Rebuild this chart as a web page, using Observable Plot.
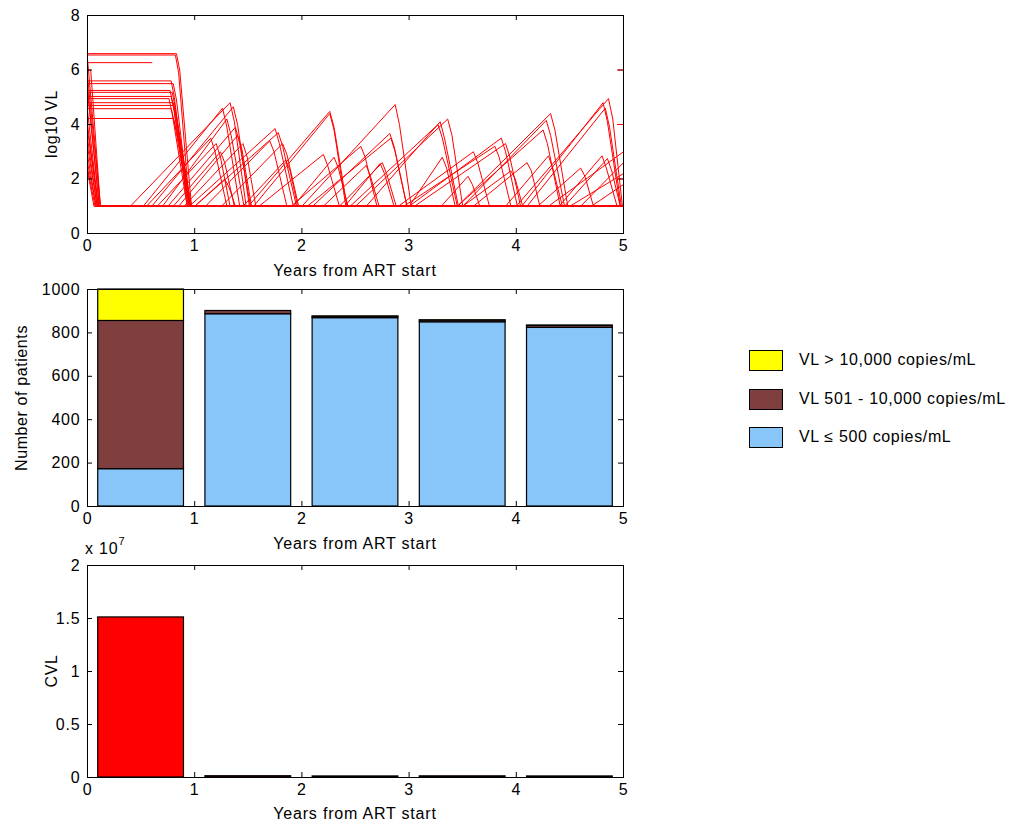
<!DOCTYPE html>
<html><head><meta charset="utf-8">
<script src="https://cdn.jsdelivr.net/npm/d3@7"></script>
<script src="https://cdn.jsdelivr.net/npm/@observablehq/plot@0.6"></script>
<style>
body{margin:0;background:#fff;font-family:"Liberation Sans",Arial,sans-serif;color:#000;}
#wrap{position:relative;width:1017px;height:825px;overflow:hidden;}
.panel{position:absolute;left:0;}
.lbl{position:absolute;font-size:16px;white-space:nowrap;letter-spacing:0.8px;}
.ylbl{position:absolute;font-size:16px;white-space:nowrap;letter-spacing:0.6px;transform:translate(-50%,-50%) rotate(-90deg);}
.box{position:absolute;width:34px;height:21px;border:1px solid #000;box-sizing:border-box;}
.ltxt{position:absolute;font-size:16px;white-space:nowrap;line-height:20px;letter-spacing:0.65px;}
</style></head><body><div id="wrap"></div>
<script>
// ---------- data ----------
const xTicks = [0, 1, 2, 3, 4, 5];
const vlTicks = [0, 2, 4, 6, 8];
const patientTicks = [0, 200, 400, 600, 800, 1000];
const cvlTicks = [0, 0.5, 1, 1.5, 2];
const cvlExponent = 7;

// log10 viral load trajectories per patient: [years, log10 VL]
const patientTraces = [
  [[0,6.6],[0.83,6.6],[0.86,6.0],[0.97,1],[1.50,1],[2.26,4.48],[2.30,3.9],[2.42,1],[3.45,1],[4.32,4.4],[4.36,3.8],[4.48,1],[5,1]],
  [[0,6.55],[0.82,6.55],[0.85,5.9],[0.95,1],[2.0,1],[2.87,4.73],[2.91,4.0],[3.02,1],[4.0,1],[4.86,4.95],[4.90,4.2],[4.99,1],[5,1]],
  [[0,6.27],[0.6,6.27]],
  [[0,5.6],[0.78,5.6],[0.81,5.0],[0.93,1],[2.45,1],[3.27,4.0],[3.31,3.5],[3.45,1],[4.05,1],[4.81,4.8],[4.85,4.1],[4.97,1],[5,1]],
  [[0,5.5],[0.80,5.5],[0.83,4.9],[0.95,1],[2.5,1],[3.36,4.2],[3.40,3.6],[3.50,1],[4.4,1],[4.80,2.85],[4.84,2.4],[4.94,1],[5,1]],
  [[0,5.25],[0.77,5.25],[0.80,4.7],[0.94,1],[1.0,1],[1.78,3.7],[1.82,3.2],[1.95,1],[3.0,1],[3.86,3.5],[3.90,3.0],[4.01,1],[5,1]],
  [[0,5.18],[0.79,5.18],[0.82,4.6],[0.96,1],[2.1,1],[2.82,3.67],[2.86,3.2],[2.98,1],[4.6,1],[5,2.6]],
  [[0,5.03],[0.78,5.03],[0.81,4.5],[0.95,1],[1.25,1],[1.82,3.3],[1.86,2.9],[1.97,1],[3.05,1],[3.9,3.3],[3.94,2.8],[4.04,1],[5,1]],
  [[0,4.8],[0.80,4.8],[0.83,4.3],[0.96,1],[2.35,1],[2.75,2.6],[2.79,2.2],[2.88,1],[3.5,1],[4.28,4.15],[4.32,3.6],[4.45,1],[5,1]],
  [[0,4.7],[0.80,4.7],[0.83,4.2],[0.97,1],[1.6,1],[2.2,2.9],[2.24,2.5],[2.35,1],[2.6,1],[3.29,4.1],[3.33,3.5],[3.46,1],[5,1]],
  [[0,4.58],[0.78,4.58],[0.81,4.1],[0.95,1],[1.92,1],[2.3,2.8],[2.34,2.4],[2.43,1],[3.9,1],[4.3,2.85],[4.34,2.4],[4.43,1],[5,1]],
  [[0,4.22],[0.80,4.22],[0.83,3.8],[0.96,1],[3.0,1],[3.31,2.8],[3.35,2.4],[3.43,1],[4.45,1],[4.85,2.75],[4.89,2.3],[4.97,1],[5,1]],
  [[0,4.95],[0.76,4.95],[0.79,4.4],[0.93,1],[2.05,1],[2.83,3.5],[2.87,3.0],[2.98,1],[4.5,1],[5,2.2]],
  [[0,6.0],[0.03,6.0],[0.12,1],[0.40,1],[1.33,4.8],[1.37,4.1],[1.48,1],[2.95,1],[3.8,3.2],[3.84,2.8],[3.95,1],[5,1]],
  [[0,5.8],[0.12,1],[0.52,1],[1.26,4.6],[1.30,3.9],[1.42,1],[2.4,1],[2.73,2.57],[2.77,2.2],[2.86,1],[5,1]],
  [[0,5.2],[0.11,1],[0.60,1],[1.36,4.65],[1.40,4.0],[1.51,1],[4.2,1],[4.6,2.4],[4.64,2.1],[4.72,1],[5,1]],
  [[0,4.5],[0.10,1],[0.70,1],[1.30,4.2],[1.34,3.6],[1.46,1],[3.5,1],[3.95,2.3],[3.99,2.0],[4.06,1],[5,1]],
  [[0,3.8],[0.10,1],[0.80,1],[1.24,3.0],[1.28,2.6],[1.37,1],[1.45,1],[1.85,2.7],[1.89,2.3],[1.96,1],[5,1]],
  [[0,3.2],[0.09,1],[0.85,1],[1.40,3.6],[1.44,3.1],[1.53,1],[2.2,1],[2.6,2.5],[2.64,2.1],[2.72,1],[5,1]],
  [[0,2.9],[0.08,1],[0.95,1],[1.75,3.85],[1.79,3.3],[1.92,1],[4.7,1],[5,1.8]],
  [[0,2.6],[0.08,1],[1.0,1],[1.28,2.0],[1.32,1.7],[1.38,1],[3.3,1],[3.55,2.1],[3.59,1.8],[3.66,1],[5,1]],
  [[0,2.4],[0.07,1],[0.55,1],[1.15,3.5],[1.19,3.0],[1.30,1],[1.55,1],[2.26,4.4],[2.30,3.8],[2.41,1],[5,1]],
  [[0,2.3],[0.06,1],[0.65,1],[1.20,3.3],[1.24,2.8],[1.33,1],[3.45,1],[4.25,3.8],[4.29,3.3],[4.41,1],[5,1]],
  [[0,6.4],[0.12,1],[0.75,1],[1.38,3.9],[1.42,3.3],[1.52,1],[4.1,1],[4.83,4.6],[4.87,3.9],[4.98,1],[5,1]],
  [[0,4.0],[0.10,1],[0.90,1],[1.45,3.3],[1.49,2.8],[1.57,1],[4.3,1],[5,3.0]],
  [[0,3.5],[0.09,1],[1.9,1],[2.55,3.2],[2.59,2.8],[2.70,1],[3.6,1],[4.1,2.6],[4.14,2.3],[4.22,1],[5,1]],
  [[0,5.4],[0.11,1],[1.1,1],[1.70,3.4],[1.74,3.0],[1.86,1],[2.9,1],[3.6,3.0],[3.64,2.6],[3.75,1],[5,1]]
];

// stacked bars: number of patients per year
const barYears = [0.5, 1.5, 2.5, 3.5, 4.5];
const vlCategories = ["VL \u2264 500 copies/mL", "VL 501 - 10,000 copies/mL", "VL > 10,000 copies/mL"];
const vlColors = ["#88c5f8", "#7f3f3f", "#ffff00"];
const countLow = [172, 886, 868, 849, 823];
const countMid = [683, 15, 6, 8, 9];
const countHigh = [145, 0, 2, 1, 2];

// community viral load (x 10^7)
const cvlValues = [1.51, 0.012, 0.01, 0.011, 0.01];

// ---------- layout ----------
const FONT = "'Liberation Sans', Arial, sans-serif";
const W = 650, ML = 87, MR = 27, FW = W - ML - MR;
const barHalf = 0.4;
const wrap = document.getElementById("wrap");
const svgStyle = {fontSize: "16px", fontFamily: FONT, background: "transparent", color: "#000", letterSpacing: "0.8px"};

function frameMarks(xt, yt, fh) {
  return [
    Plot.tickX(xt, {x: d => d, insetTop: fh - 5, stroke: "black"}),
    Plot.tickX(xt, {x: d => d, insetBottom: fh - 5, stroke: "black"}),
    Plot.tickY(yt, {y: d => d, insetRight: FW - 5, stroke: "black"}),
    Plot.tickY(yt, {y: d => d, insetLeft: FW - 5, stroke: "black"}),
    Plot.axisX({ticks: xt, tickSize: 0, tickPadding: 6, label: null, tickFormat: d => String(d)}),
    Plot.axisY({ticks: yt, tickSize: 0, tickPadding: 7, label: null, tickFormat: d => String(d)}),
    Plot.frame({stroke: "black", strokeWidth: 1})
  ];
}

function place(el, top) {
  el.classList.add("panel");
  el.style.top = top + "px";
  wrap.appendChild(el);
}
function text(cls, str, x, y, extra) {
  const d = document.createElement("div");
  d.className = cls;
  d.innerHTML = str;
  d.style.left = x + "px";
  d.style.top = y + "px";
  if (extra) Object.assign(d.style, extra);
  wrap.appendChild(d);
  return d;
}

// ---- top panel ----
const traceRows = patientTraces.flatMap((tr, i) => tr.map(([t, v]) => ({id: i, t, v})));
const topH = 218;
const p1 = Plot.plot({
  width: W, height: 280, marginLeft: ML, marginRight: MR, marginTop: 15, marginBottom: 280 - 15 - topH,
  style: svgStyle,
  x: {domain: [0, 5]}, y: {domain: [0, 8]},
  marks: [
    Plot.line(traceRows, {x: "t", y: "v", z: "id", stroke: "#ff0000", strokeWidth: 1}),
    ...frameMarks(xTicks, vlTicks, topH),
    Plot.tickY([2, 4, 6], {y: d => d, insetLeft: FW - 6, stroke: "#ff0000"})
  ]
});
place(p1, 0);

// ---- middle panel ----
const barRows = [];
barYears.forEach((yr, i) => {
  const parts = [countLow[i], countMid[i], countHigh[i]];
  let base = 0;
  parts.forEach((c, k) => {
    if (c > 0) barRows.push({x1: yr - barHalf, x2: yr + barHalf, y1: base, y2: base + c, cat: vlCategories[k]});
    base += c;
  });
});
const midH = 217;
const p2 = Plot.plot({
  width: W, height: 276, marginLeft: ML, marginRight: MR, marginTop: 9, marginBottom: 276 - 9 - midH,
  style: svgStyle,
  x: {domain: [0, 5]}, y: {domain: [0, 1000]},
  color: {domain: vlCategories, range: vlColors},
  marks: [
    Plot.rect(barRows, {x1: "x1", x2: "x2", y1: "y1", y2: "y2", fill: "cat", stroke: "black", strokeWidth: 1.2}),
    ...frameMarks(xTicks, patientTicks, midH)
  ]
});
place(p2, 280);

// ---- bottom panel ----
const cvlRows = barYears.map((yr, i) => ({x1: yr - barHalf, x2: yr + barHalf, y1: 0, y2: cvlValues[i]}));
const botH = 212;
const p3 = Plot.plot({
  width: W, height: 269, marginLeft: ML, marginRight: MR, marginTop: 9, marginBottom: 269 - 9 - botH,
  style: svgStyle,
  x: {domain: [0, 5]}, y: {domain: [0, 2]},
  marks: [
    Plot.rect(cvlRows, {x1: "x1", x2: "x2", y1: "y1", y2: "y2", fill: "#ff0000", stroke: "black", strokeWidth: 1.2}),
    ...frameMarks(xTicks, cvlTicks, botH)
  ]
});
place(p3, 556);

// ---- axis titles ----
const cx = ML + FW / 2;
[262, 535, 805].forEach(y => text("lbl", "Years from ART start", cx, y, {transform: "translateX(-50%)"}));
text("ylbl", "log10 VL", 52, 124);
text("ylbl", "Number of patients", 22, 398);
text("ylbl", "CVL", 52, 671);
text("lbl", "x 10<sup style='font-size:11px;position:relative;top:-3px;vertical-align:super;line-height:0'>" + cvlExponent + "</sup>", 85, 540);

// ---- legend ----
const legendOrder = [2, 1, 0];
const legendTops = [350, 389, 427];
legendOrder.forEach((k, j) => {
  const b = document.createElement("div");
  b.className = "box";
  b.style.left = "749px";
  b.style.top = legendTops[j] + "px";
  b.style.background = vlColors[k];
  wrap.appendChild(b);
  text("ltxt", vlCategories[k], 799, legendTops[j]);
});
</script></body></html>
